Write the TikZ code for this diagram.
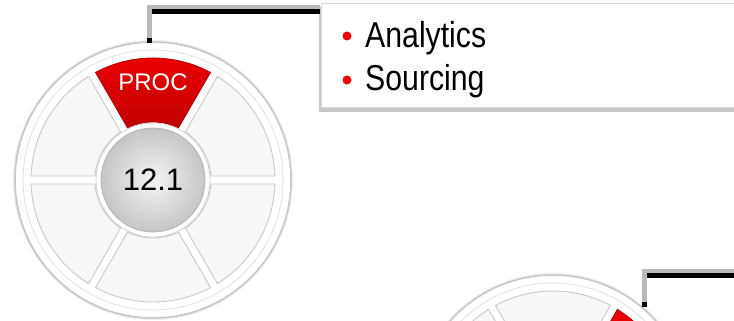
\documentclass[tikz,border=0pt]{standalone}
\usepackage{fontspec}
\setmainfont{Liberation Sans}
\newfontfamily\narrowsans[FakeStretch=0.84]{Liberation Sans}
\usetikzlibrary{positioning, calc, shadows}
\definecolor{procred}{RGB}{236,0,0}

\begin{document}
\begin{tikzpicture}[x=1pt, y=1pt]
  \newcommand\rimrad{138}
  \newcommand\segout{122}
  \newcommand\segin{58}
  \newcommand\hubrad{52}
  \newcommand\gapout{1.88}
  \newcommand\gapin{3.95}

  \tikzset{rimdisc/.style={fill=white, draw=gray!45, line width=1.5}}
  \tikzset{segentry/.style={fill=gray!6, draw=gray!42, line width=0.9}}
  \tikzset{hotseg/.style={top color=procred, bottom color=procred!82!black, draw=procred!75!black, line width=0.8}}
  \tikzset{hubring/.style={fill=white, draw=gray!35, line width=0.8}}
  \tikzset{hubentry/.style={circle, minimum size=2*\hubrad, inner sep=0, inner color=gray!8, outer color=gray!45, draw=gray!60, line width=0.8, font=\fontsize{31}{36}\selectfont}}
  \tikzset{hotlabel/.style={text=white, inner sep=0, font=\fontsize{24}{28}\selectfont}}
  \tikzset{leadgray/.style={draw=gray!55, line width=4.5}}
  \tikzset{leadblack/.style={draw=black, line width=4.5}}
  \tikzset{itembox/.style={fill=white, draw=gray!30, line width=1, drop shadow={shadow xshift=-3, shadow yshift=-4, fill=gray!45, opacity=1}}}
  \tikzset{itemtxt/.style={inner sep=0, font=\narrowsans\fontsize{36}{40}\selectfont}}
  \tikzset{bulletdot/.style={circle, fill=procred, minimum size=9, inner sep=0}}

  \useasboundingbox (0,0) rectangle (734,-321);
  \clip (0,0) rectangle (734,-321);

  % wheels
  \foreach \w/\cx/\cy/\hot/\hubtxt in {1/153/-180/60/12.1, 2/553/-413/0/}{
    \begin{scope}[shift={(\cx,\cy)}]
      \fill[gray!15] (0,0) circle (\rimrad+2);
      \draw[rimdisc] (0,0) circle (\rimrad);
      \draw[gray!20, line width=1] (0,0) circle (\rimrad-8);
      \foreach \a in {0,60,...,300}{
        \ifnum\a=\hot \def\segstyle{hotseg}\else \def\segstyle{segentry}\fi
        \path[\segstyle] ({\a+\gapin}:\segin) -- ({\a+\gapout}:\segout)
          arc[start angle=\a+\gapout, end angle=\a+60-\gapout, radius=\segout]
          -- ({\a+60-\gapin}:\segin)
          arc[start angle=\a+60-\gapin, end angle=\a+\gapin, radius=\segin] -- cycle;
      }
      \draw[hubring] (0,0) circle (\hubrad+5);
    \end{scope}
    \node[hubentry] (whl\w) at (\cx,\cy) {\hubtxt};
  }
  \node[hotlabel] (whl1-lbl) at ($(whl1)+(90:98)$) {PROC};

  % item box
  \node[itembox, anchor=north west, minimum width=440, minimum height=104] (box1) at (321,-3) {};
  \node[bulletdot] (dot1) at (347,-36) {};
  \node[bulletdot] (dot2) at ($(dot1)+(0,-44)$) {};
  \node[itemtxt, anchor=base west] (item1) at (365,-48) {Analytics};
  \node[itemtxt, anchor=base west] (item2) at ($(item1.base west)+(0,-43)$) {Sourcing};

  % leaders
  \coordinate (whl1-top) at (149.5,-43);
  \coordinate (box1-in) at (320,-7);
  \coordinate (box1-blk) at (320,-11.5);
  \draw[leadgray] (whl1-top) |- (box1-in);
  \draw[leadblack] ($(whl1-top |- box1-blk)+(2.5,0)$) -- (box1-blk);
  \draw[leadblack] (whl1-top) -- ++(0,5);

  \coordinate (whl2-top) at (644.5,-307);
  \coordinate (box2-in) at (740,-271);
  \coordinate (box2-blk) at (740,-275.5);
  \draw[leadgray] (whl2-top) |- (box2-in);
  \draw[leadblack] ($(whl2-top |- box2-blk)+(2.5,0)$) -- (box2-blk);
  \draw[leadblack] (whl2-top) -- ++(0,5);
\end{tikzpicture}
\end{document}
